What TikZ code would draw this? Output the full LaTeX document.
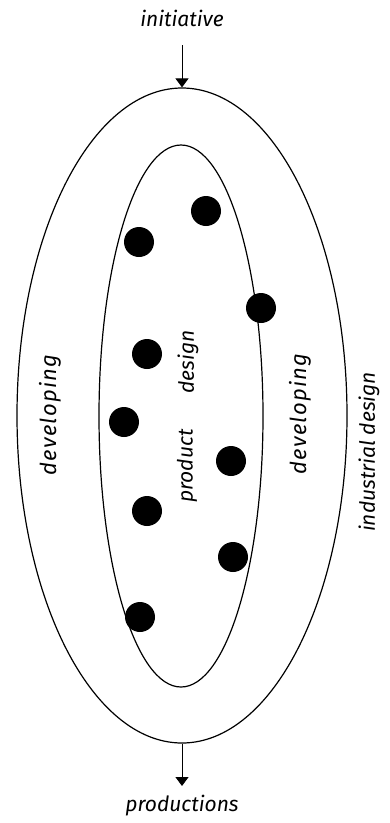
\documentclass[tikz,border=0pt]{standalone}
\usepackage{fontspec}
\newfontfamily\lblfont{Fira Sans}
\newfontfamily\widefont{Fira Sans}[LetterSpace=6]
\usetikzlibrary{shapes.geometric,arrows.meta}
\tikzset{
  ring/.style={ellipse,draw,line width=1.2pt,inner sep=0pt},
  dot/.style={circle,fill=black,minimum size=30pt,inner sep=0pt},
  lbl/.style={font=\lblfont\itshape\fontsize{21}{24}\selectfont,inner sep=0pt},
  vlbl/.style={lbl,rotate=90},
  wlbl/.style={vlbl,font=\widefont\itshape\fontsize{22}{24}\selectfont},
  arrow/.style={-{Triangle[width=13pt,length=9pt]},line width=1pt}
}
\begin{document}
\begin{tikzpicture}[x=1pt,y=-1pt]
  \useasboundingbox (0,0) rectangle (389,823);
  % rings
  \node[ring,minimum width=330pt,minimum height=655pt] (outer) at (182,415.5) {};
  \node[ring,minimum width=164pt,minimum height=542pt] (inner) at (181,416) {};

  % flow in and out
  \node[lbl] (init) at (182,18) {initiative};
  \node[lbl] (prod) at (182,806) {productions};
  \coordinate (top) at (182,45);
  \coordinate (bot) at (182,786);
  \draw[arrow] (top) -- (outer.north);
  \draw[arrow] (outer.south) -- (bot);

  % ideas
  \node[dot] (d1) at (206,211) {};
  \node[dot] (d2) at (139,242) {};
  \node[dot] (d3) at (261,308) {};
  \node[dot] (d4) at (147,354) {};
  \node[dot] (d5) at (124,422) {};
  \node[dot] (d6) at (231,461) {};
  \node[dot] (d7) at (147,511) {};
  \node[dot] (d8) at (233,557) {};
  \node[dot] (d9) at (140,617) {};

  % labels
  \node[wlbl] (devl) at (50,415) {developing};
  \node[vlbl] (des) at (188,362) {design};
  \node[vlbl] (pro) at (187,466) {product};
  \node[wlbl] (devr) at (300,414) {developing};
  \node[vlbl] (ind) at (369,452) {industrial design};
\end{tikzpicture}
\end{document}
